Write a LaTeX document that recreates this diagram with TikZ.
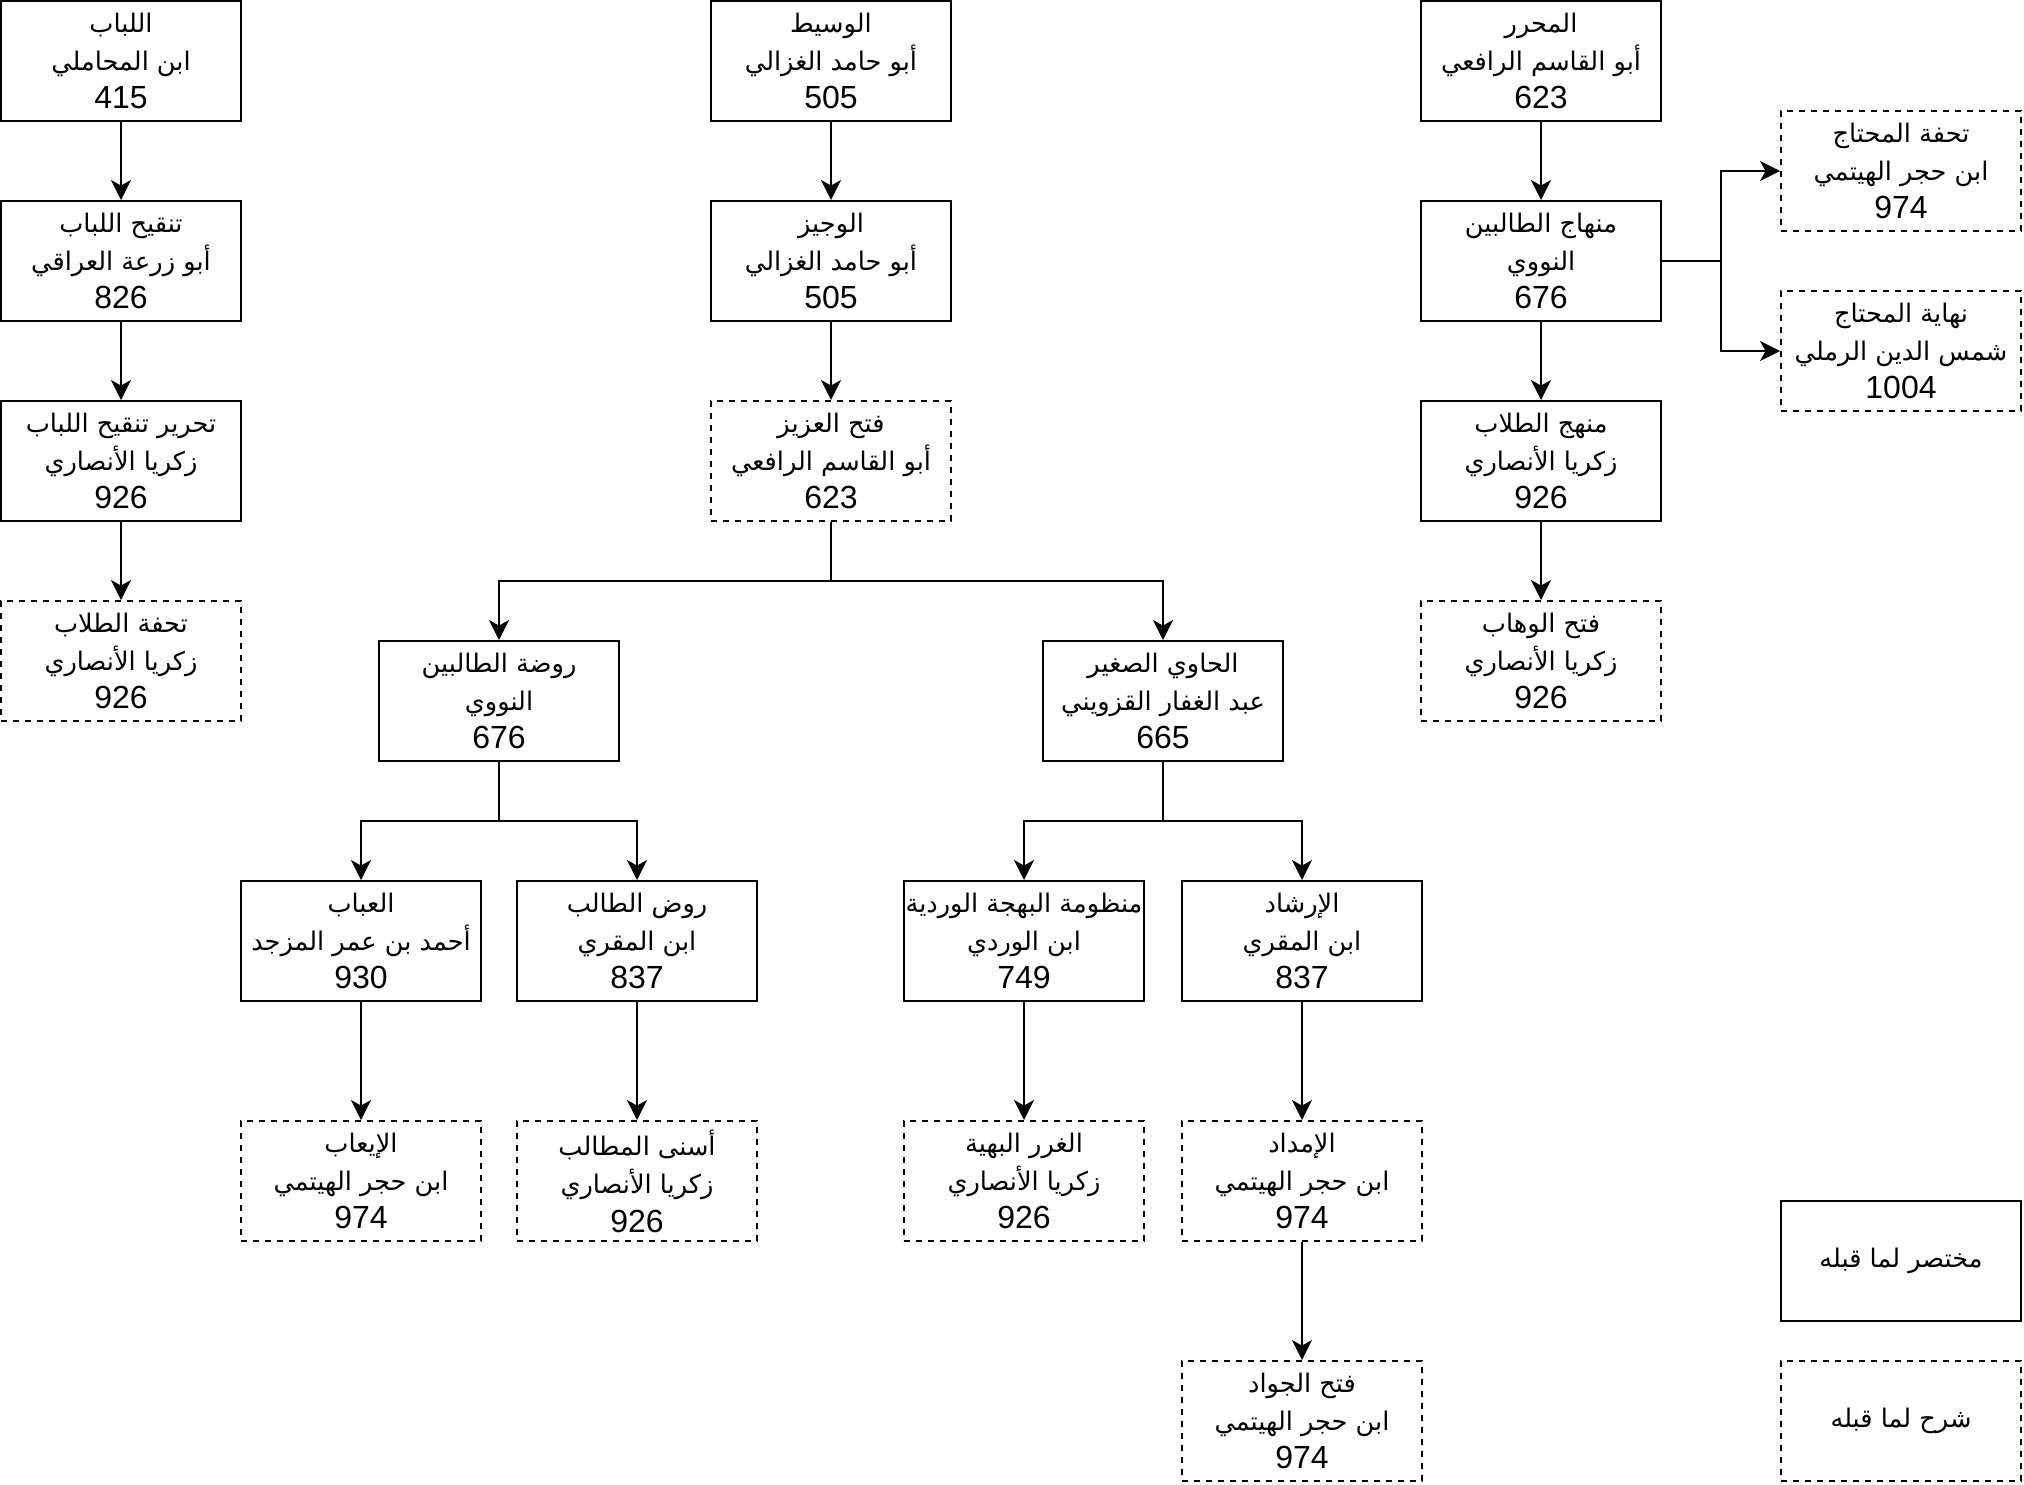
\documentclass[tikz,border=0pt]{standalone}
\usepackage{fontspec}
\setmainfont{Liberation Sans}
\newfontfamily\arabicfont[Script=Arabic, Scale=0.8]{DejaVu Sans}
\TeXXeTstate=1
\usetikzlibrary{arrows.meta}

\newcommand{\artxt}[1]{{\arabicfont\beginR #1\endR}}

\begin{document}
\begin{tikzpicture}[x=1pt, y=-1pt]
  \tikzstyle{block} = [rectangle, draw, minimum height = 60pt, minimum width = 120pt, inner sep = 0pt, line width = 1pt, align = center, font = \fontsize{16}{19.2}\selectfont]
  \tikzstyle{d_block} = [block, dash pattern = on 3pt off 3pt]
  \tikzstyle{arrow} = [-{Stealth[length = 10pt, width = 10pt, inset = 2.8pt]}, line width = 1pt]
  \tikzstyle{line} = [-, line width = 1pt]

  \useasboundingbox (0,0) rectangle (1012,742);

  % first column
  \node [block] at (60.5, 30.5) (lubab) {\artxt{اللباب}\\\artxt{ابن المحاملي}\\415};
  \node [block] at (60.5, 130.5) (tanqih) {\artxt{تنقيح اللباب}\\\artxt{أبو زرعة العراقي}\\826};
  \node [block] at (60.5, 230.5) (tahrir) {\artxt{تحرير تنقيح اللباب}\\\artxt{زكريا الأنصاري}\\926};
  \node [d_block] at (60.5, 330.5) (tuhfat_tullab) {\artxt{تحفة الطلاب}\\\artxt{زكريا الأنصاري}\\926};

  % second column
  \node [block] at (415.5, 30.5) (wasit) {\artxt{الوسيط}\\\artxt{أبو حامد الغزالي}\\505};
  \node [block] at (415.5, 130.5) (wajiz) {\artxt{الوجيز}\\\artxt{أبو حامد الغزالي}\\505};
  \node [d_block] at (415.5, 230.5) (fath_aziz) {\artxt{فتح العزيز}\\\artxt{أبو القاسم الرافعي}\\623};
  \node [block] at (249.5, 350.5) (rawda) {\artxt{روضة الطالبين}\\\artxt{النووي}\\676};
  \node [block] at (581.5, 350.5) (hawi) {\artxt{الحاوي الصغير}\\\artxt{عبد الغفار القزويني}\\665};
  \node [block] at (180.5, 470.5) (ubab) {\artxt{العباب}\\\artxt{أحمد بن عمر المزجد}\\930};
  \node [block] at (318.5, 470.5) (rawd) {\artxt{روض الطالب}\\\artxt{ابن المقري}\\837};
  \node [block] at (512, 470.5) (manzuma) {\artxt{منظومة البهجة الوردية}\\\artxt{ابن الوردي}\\749};
  \node [block] at (651, 470.5) (irshad) {\artxt{الإرشاد}\\\artxt{ابن المقري}\\837};
  \node [d_block] at (180.5, 590.5) (iab) {\artxt{الإيعاب}\\\artxt{ابن حجر الهيتمي}\\974};
  \node [d_block] at (318.5, 590.5) (asna) {\artxt{أسنى المطالب}\\\artxt{زكريا الأنصاري}\\926};
  \node [d_block] at (512, 590.5) (ghurar) {\artxt{الغرر البهية}\\\artxt{زكريا الأنصاري}\\926};
  \node [d_block] at (651, 590.5) (imdad) {\artxt{الإمداد}\\\artxt{ابن حجر الهيتمي}\\974};
  \node [d_block] at (651, 710.5) (fath_jawad) {\artxt{فتح الجواد}\\\artxt{ابن حجر الهيتمي}\\974};

  % third column
  \node [block] at (770.5, 30.5) (muharrar) {\artxt{المحرر}\\\artxt{أبو القاسم الرافعي}\\623};
  \node [block] at (770.5, 130.5) (minhaj) {\artxt{منهاج الطالبين}\\\artxt{النووي}\\676};
  \node [block] at (770.5, 230.5) (manhaj) {\artxt{منهج الطلاب}\\\artxt{زكريا الأنصاري}\\926};
  \node [d_block] at (770.5, 330.5) (fath_wahhab) {\artxt{فتح الوهاب}\\\artxt{زكريا الأنصاري}\\926};
  \node [d_block] at (950.5, 85.5) (tuhfat_muhtaj) {\artxt{تحفة المحتاج}\\\artxt{ابن حجر الهيتمي}\\974};
  \node [d_block] at (950.5, 175.5) (nihaya) {\artxt{نهاية المحتاج}\\\artxt{شمس الدين الرملي}\\1004};

  % legend
  \node [block] at (950.5, 630.5) (key_mukhtasar) {\artxt{مختصر لما قبله}};
  \node [d_block] at (950.5, 710.5) (key_sharh) {\artxt{شرح لما قبله}};

  \coordinate (fork_aziz) at (415.5, 290.5);
  \coordinate (fork_rawda) at (249.5, 410.5);
  \coordinate (fork_hawi) at (581.5, 410.5);
  \coordinate (fork_minhaj) at (860.5, 130.5);

  \draw[arrow] (lubab) to (tanqih);
  \draw[arrow] (tanqih) to (tahrir);
  \draw[arrow] (tahrir) to (tuhfat_tullab);
  \draw[arrow] (wasit) to (wajiz);
  \draw[arrow] (wajiz) to (fath_aziz);
  \draw[line] (fath_aziz) to (fork_aziz);
  \draw[arrow] (fork_aziz) -| (rawda);
  \draw[arrow] (fork_aziz) -| (hawi);
  \draw[line] (rawda) to (fork_rawda);
  \draw[arrow] (fork_rawda) -| (ubab);
  \draw[arrow] (fork_rawda) -| (rawd);
  \draw[line] (hawi) to (fork_hawi);
  \draw[arrow] (fork_hawi) -| (manzuma);
  \draw[arrow] (fork_hawi) -| (irshad);
  \draw[arrow] (ubab) to (iab);
  \draw[arrow] (rawd) to (asna);
  \draw[arrow] (manzuma) to (ghurar);
  \draw[arrow] (irshad) to (imdad);
  \draw[arrow] (imdad) to (fath_jawad);
  \draw[arrow] (muharrar) to (minhaj);
  \draw[arrow] (minhaj) to (manhaj);
  \draw[arrow] (manhaj) to (fath_wahhab);
  \draw[line] (minhaj) to (fork_minhaj);
  \draw[arrow] (fork_minhaj) |- (tuhfat_muhtaj);
  \draw[arrow] (fork_minhaj) |- (nihaya);
\end{tikzpicture}
\end{document}
